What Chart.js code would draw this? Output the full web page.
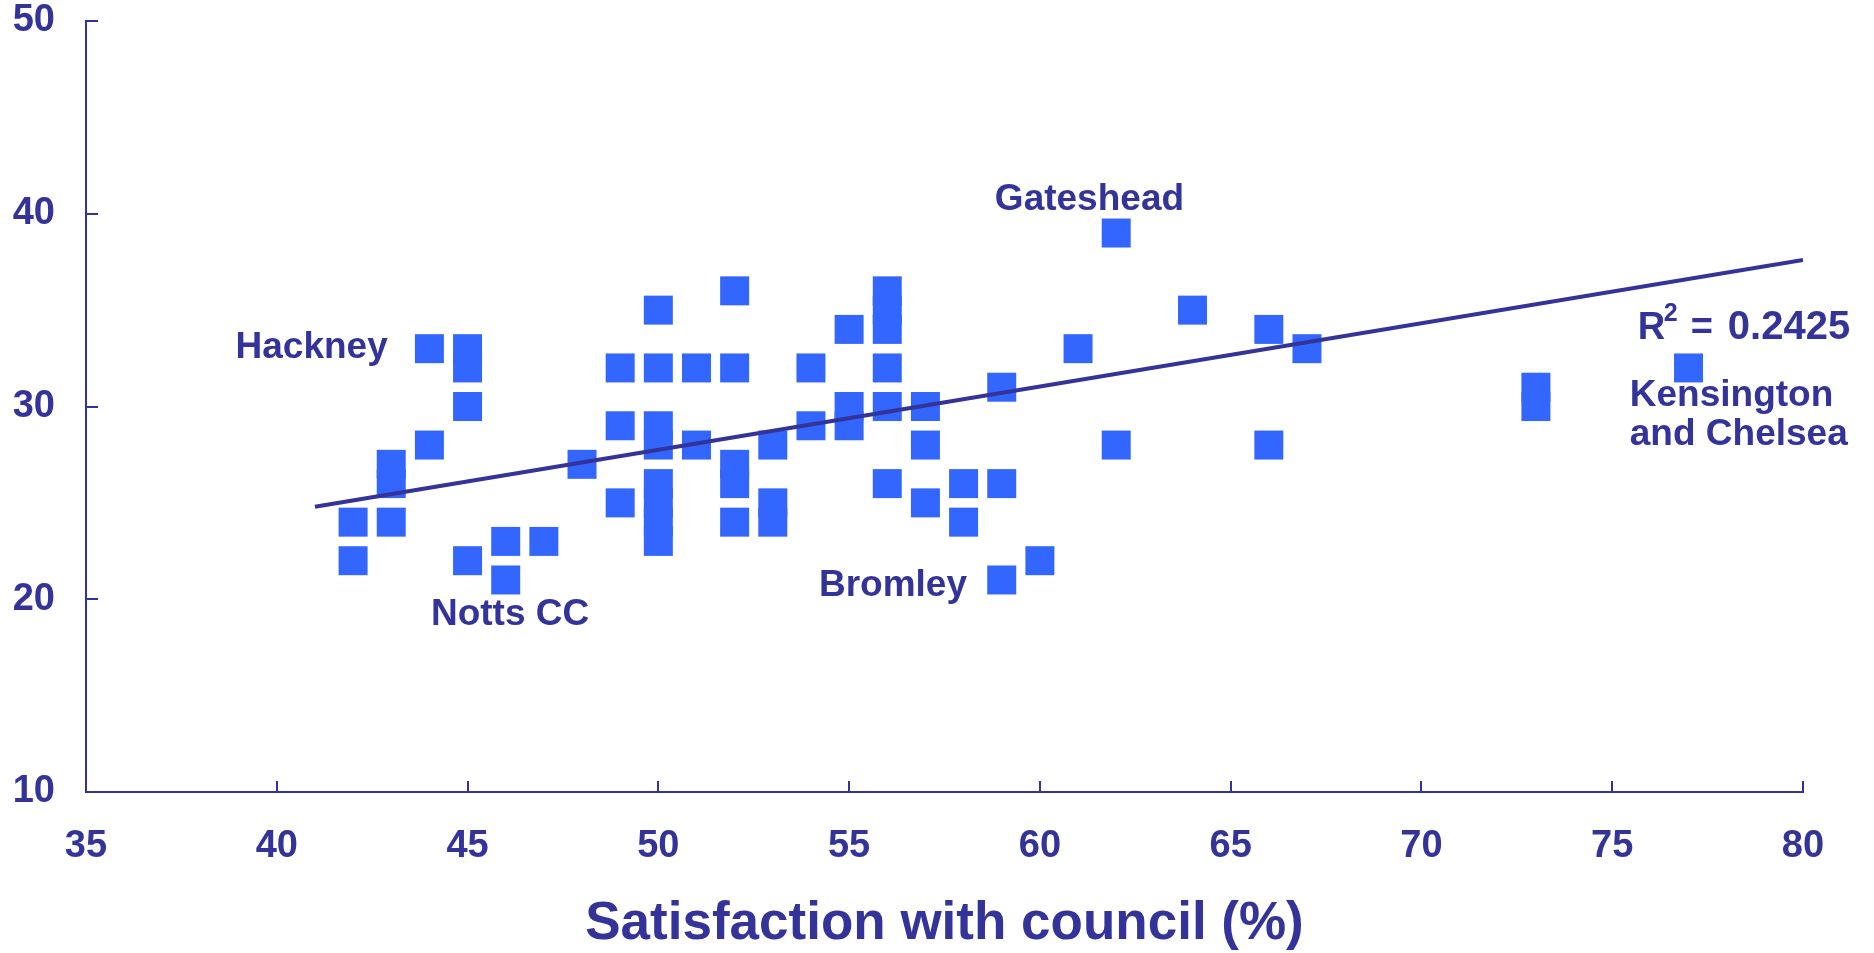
<!DOCTYPE html>
<html><head><meta charset="utf-8">
<script src="https://cdn.jsdelivr.net/npm/chart.js@4.4.1/dist/chart.umd.min.js"></script>
<style>html,body{margin:0;padding:0;background:#fff;overflow:hidden}#wrap{width:1874px;height:953px}</style>
</head><body><div id="wrap"><canvas id="c" width="1874" height="953"></canvas></div>
<script>
// Satisfaction with council (%) per authority
const satisfaction = [
  42,42, 43,43,43, 44,44, 45,45,45,45, 46,46, 47, 48, 49,49,49,
  50,50,50,50,50,50,50,50, 51,51, 52,52,52,52,52, 53,53,53, 54,54,
  55,55,55, 56,56,56,56,56,56, 57,57,57, 58,58, 59,59,59, 60, 61,
  62,62, 64, 66,66, 67, 73,73, 77
];
const secondMeasure = [
  24,22, 27,26,24, 33,28, 33,32,30,22, 23,21, 23, 27, 32,29,25,
  35,32,29,28,26,25,24,23, 32,28, 36,32,27,26,24, 28,25,24, 32,29,
  34,30,29, 36,35,34,32,30,26, 30,28,25, 26,24, 31,26,21, 22, 33,
  39,28, 35, 34,28, 33, 31,30, 32
];
// Linear trend line
const trendX = [41, 80];
const trendY = [24.8, 37.6];
const rSquared = '0.2425';
// Tick settings
const xMin = 35, xMax = 80, xStep = 5;
const yMin = 10, yMax = 50, yStep = 10;
const xTitle = 'Satisfaction with council (%)';
// Named authorities (text, anchor in data units)
const noteTexts = ['Hackney', 'Gateshead', 'Notts CC', 'Bromley', 'Kensington', 'and Chelsea'];
const noteX = [38.92, 58.82, 44.04, 54.21, 75.46, 75.46];
const noteY = [32.51, 40.19, 18.66, 20.17, 30.02, 28.0];
const rNoteX = 75.67, rNoteY = 33.5;

const NAVY = '#333399';
const BLUE = '#3366FF';
const FONT = '"Liberation Sans", Arial, Helvetica, sans-serif';
Chart.defaults.font.family = FONT;

const points = satisfaction.map((x, i) => ({x: x, y: secondMeasure[i]}));
const trend = trendX.map((x, i) => ({x: x, y: trendY[i]}));

const innerTicks = {
  id: 'innerTicks',
  afterDatasetsDraw(chart) {
    const {ctx, chartArea: a, scales: {x, y}} = chart;
    ctx.save();
    ctx.strokeStyle = NAVY;
    ctx.lineWidth = 2;
    ctx.beginPath();
    for (let v = xMin; v <= xMax; v += xStep) {
      const px = Math.round(x.getPixelForValue(v));
      ctx.moveTo(px, a.bottom); ctx.lineTo(px, a.bottom - 11);
    }
    for (let v = yMin; v <= yMax; v += yStep) {
      const py = Math.round(y.getPixelForValue(v));
      ctx.moveTo(a.left, py); ctx.lineTo(a.left + 12, py);
    }
    ctx.stroke();
    // annotations
    ctx.fillStyle = NAVY;
    ctx.textBaseline = 'alphabetic';
    ctx.textAlign = 'left';
    ctx.font = 'bold 37px ' + FONT;
    noteTexts.forEach((t, i) => {
      ctx.fillText(t, x.getPixelForValue(noteX[i]), y.getPixelForValue(noteY[i]));
    });
    // R squared label with superscript
    const rx = x.getPixelForValue(rNoteX);
    const ry = y.getPixelForValue(rNoteY);
    ctx.font = 'bold 38px ' + FONT;
    ctx.fillText('R', rx, ry);
    ctx.font = 'bold 25px ' + FONT;
    ctx.fillText('2', rx + 26, ry - 18);
    ctx.font = 'bold 38px ' + FONT;
    ctx.fillText('=', rx + 53, ry);
    ctx.font = 'bold 40px ' + FONT;
    ctx.fillText(rSquared, rx + 90, ry);
    ctx.restore();
  }
};

new Chart(document.getElementById('c'), {
  type: 'scatter',
  data: {
    datasets: [
      {
        label: 'Trend',
        data: trend,
        showLine: true,
        borderColor: NAVY,
        borderWidth: 4,
        pointRadius: 0,
        fill: false,
        order: 0
      },
      {
        label: 'Authorities',
        data: points,
        pointStyle: 'rect',
        pointRadius: 20.5,
        backgroundColor: BLUE,
        borderColor: BLUE,
        borderWidth: 0,
        order: 1
      }
    ]
  },
  options: {
    responsive: false,
    devicePixelRatio: 1,
    animation: false,
    events: [],
    layout: {padding: {top: 21, right: 71, left: 0, bottom: 0}},
    plugins: {legend: {display: false}, tooltip: {enabled: false}},
    scales: {
      x: {
        type: 'linear', min: xMin, max: xMax,
        ticks: {stepSize: xStep, color: NAVY, padding: 32, font: {size: 38, weight: 'bold', lineHeight: 1.2}, maxRotation: 0},
        grid: {display: false, drawTicks: false},
        border: {display: true, color: NAVY, width: 2},
        title: {display: true, text: xTitle, color: NAVY, font: {size: 53, weight: 'bold', lineHeight: 1.0}, padding: {top: 0, bottom: 2}},
        afterFit(s) { s.height = 161; s.paddingLeft = 0; s.paddingRight = 0; }
      },
      y: {
        type: 'linear', min: yMin, max: yMax,
        ticks: {stepSize: yStep, color: NAVY, padding: 31, font: {size: 38, weight: 'bold', lineHeight: 1.0}},
        grid: {display: false, drawTicks: false},
        border: {display: true, color: NAVY, width: 2},
        afterFit(s) { s.width = 86; s.paddingTop = 0; s.paddingBottom = 0; }
      }
    }
  },
  plugins: [innerTicks]
});
</script>
</body></html>
